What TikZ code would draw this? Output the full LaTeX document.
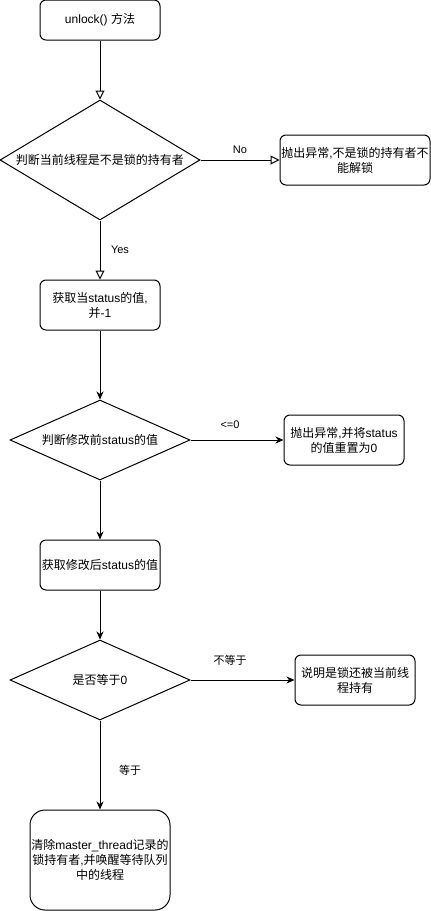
\documentclass[tikz,border=0pt]{standalone}
\usepackage{fontspec}
\setmainfont{Liberation Sans}
\newfontfamily\cjk{Noto Sans CJK SC}
\usetikzlibrary{shapes.geometric,arrows.meta}
\newcommand\zh[1]{{\cjk #1}}
\begin{document}
\begin{tikzpicture}[x=1pt,y=-1pt, line width=1pt,
  font=\fontsize{12pt}{15pt}\selectfont,
  box/.style={draw, rounded corners=6pt, minimum width=120pt, minimum height=50pt, align=center, inner sep=1pt, fill=white},
  dia/.style={draw, diamond, inner sep=0pt, align=center, fill=white},
  openarr/.style={-{Triangle[open,length=9pt,width=9pt]}},
  arr/.style={-{Stealth[length=8pt,width=7pt,inset=2.5pt]}},
  lbl/.style={font=\fontsize{11pt}{13pt}\selectfont}]
\useasboundingbox (0,0) rectangle (431,911);

\node[box, minimum height=40pt] (start) at (100,20) {unlock() \zh{方法}};
\node[dia, minimum width=200pt, minimum height=120pt, aspect=1.667] (d1) at (100,160) {\zh{判断当前线程是不是锁的持有者}};
\node[box, minimum width=150pt] (err1) at (355,160) {\zh{抛出异常},\zh{不是锁的持有者不}\\\zh{能解锁}};
\node[box] (get) at (100,305) {\zh{获取当}status\zh{的值},\\\zh{并}-1};
\node[dia, minimum width=180pt, minimum height=80pt, aspect=2.25] (d2) at (100,440) {\zh{判断修改前}status\zh{的值}};
\node[box] (err2) at (344,440) {\zh{抛出异常},\zh{并将}status\\\zh{的值重置为}0};
\node[box] (get2) at (100,565) {\zh{获取修改后}status\zh{的值}};
\node[dia, minimum width=180pt, minimum height=80pt, aspect=2.25] (d3) at (100,680) {\zh{是否等于}0};
\node[box] (hold) at (355,680) {\zh{说明是锁还被当前线}\\\zh{程持有}};
\node[box, minimum width=140pt, minimum height=100pt, rounded corners=15pt] (clear) at (100,860) {\zh{清除}master\_thread\zh{记录的}\\\zh{锁持有者},\zh{并唤醒等待队列}\\\zh{中的线程}};

\draw[openarr] (start) -- (d1);
\draw[openarr] (d1) -- (err1);
\draw[openarr] (d1) -- (get);
\draw[arr] (get) -- (d2);
\draw[arr] (d2) -- (err2);
\draw[arr] (d2) -- (get2);
\draw[arr] (get2) -- (d3);
\draw[arr] (d3) -- (hold);
\draw[arr] (d3) -- (clear);

\node[lbl] (lno) at (240,150) {No};
\node[lbl] (lyes) at (120,250) {Yes};
\node[lbl] (lle) at (230,425) {<=0};
\node[lbl] (lne) at (230,660) {\zh{不等于}};
\node[lbl] (leq) at (130,770) {\zh{等于}};
\end{tikzpicture}
\end{document}
